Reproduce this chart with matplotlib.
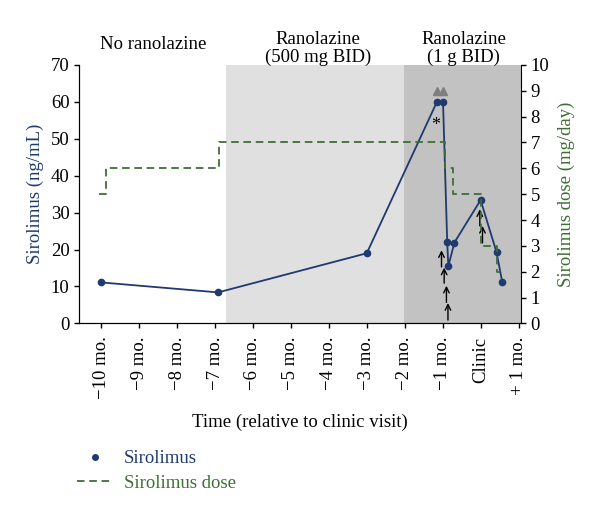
import matplotlib.pyplot as plt
from matplotlib.lines import Line2D

plt.rcParams['font.family'] = 'Liberation Serif'

# months relative to clinic visit (0 = clinic)
sir_x = [-10.0, -6.92, -3.0, -1.15, -0.99, -0.88, -0.85, -0.69, 0.0, 0.42, 0.57]
sir_y = [11.1, 8.4, 19.0, 60.0, 60.0, 22.1, 15.5, 21.9, 33.4, 19.3, 11.2]

# sirolimus dose (mg/day), step changes
dose_x = [-10.05, -9.88, -6.9, -0.95, -0.72, 0.02, 0.42, 0.52]
dose_y = [5, 6, 7, 6, 5, 3, 2, 2]

# flagged points (above-range) and dose-change arrows
flag_x = [-1.15, -0.99]
arrow_x = [-1.03, -0.96, -0.90, -0.86, -0.02, 0.05]
arrow_lo = [15.3, 10.9, 5.7, 0.9, 26.4, 21.8]
arrow_hi = [19.8, 15.1, 10.2, 5.5, 30.9, 26.4]

tick_pos = [-10, -9, -8, -7, -6, -5, -4, -3, -2, -1, 0, 1]
tick_lab = ['\u221210 mo.', '\u22129 mo.', '\u22128 mo.', '\u22127 mo.', '\u22126 mo.',
            '\u22125 mo.', '\u22124 mo.', '\u22123 mo.', '\u22122 mo.', '\u22121 mo.',
            'Clinic', '+ 1 mo.']

navy = '#1e3a6e'
green = '#3d6e34'
fs = 13.5

fig = plt.figure(figsize=(6.0, 5.15), dpi=100)
ax = fig.add_axes([0.132, 0.372, 0.736, 0.502])
ax2 = ax.twinx()

# treatment periods
ax.axvspan(-6.70, -2.03, color='#e0e0e0', lw=0, zorder=0)
ax.axvspan(-2.03, 1.06, color='#c2c2c2', lw=0, zorder=0)

ax.plot(sir_x, sir_y, color=navy, lw=1.3, marker='o', ms=4.5, zorder=3)
ax.plot(flag_x, [62.8, 62.8], ls='none', marker='^', ms=5.5, color='#7f7f7f', zorder=3)
ax.text(-1.19, 53.5, '*', fontsize=13, ha='center', va='center')
for xa, lo, hi in zip(arrow_x, arrow_lo, arrow_hi):
    ax.annotate('', xy=(xa, hi), xytext=(xa, lo),
                arrowprops=dict(arrowstyle='->', lw=1.0, color='black',
                                shrinkA=0, shrinkB=0), zorder=4)

ax2.plot(dose_x, dose_y, color=green, lw=1.3, ls=(0, (4.2, 2.6)), drawstyle='steps-post')

ax.set_xlim(-10.58, 1.06)
ax.set_ylim(0, 70)
ax2.set_ylim(0, 10)
ax.set_yticks(range(0, 71, 10))
ax2.set_yticks(range(0, 11))
ax.set_xticks(tick_pos)
ax.set_xticklabels(tick_lab, rotation=90)

for a in (ax, ax2):
    a.spines['top'].set_visible(False)
    a.tick_params(labelsize=fs, length=3.5, width=1, direction='out')
ax.spines['right'].set_visible(False)
ax.tick_params(axis='x', pad=6)

ax.set_ylabel('Sirolimus (ng/mL)', color=navy, fontsize=fs, labelpad=5)
ax2.set_ylabel('Sirolimus dose (mg/day)', color=green, fontsize=fs, labelpad=6)
ax.set_xlabel('Time (relative to clinic visit)', fontsize=fs, labelpad=10)

fig.text(0.255, 0.913, 'No ranolazine', fontsize=fs, ha='center', va='center')
fig.text(0.53, 0.906, 'Ranolazine\n(500 mg BID)', fontsize=fs, ha='center', va='center',
         linespacing=1.1)
fig.text(0.773, 0.906, 'Ranolazine\n(1 g BID)', fontsize=fs, ha='center', va='center',
         linespacing=1.1)

handles = [Line2D([], [], color=navy, marker='o', ms=4, ls='none'),
           Line2D([], [], color=green, lw=1.3, ls=(0, (4.2, 2.6)))]
fig.legend(handles, ['Sirolimus', 'Sirolimus dose'], loc='upper left',
           bbox_to_anchor=(0.128, 0.126), frameon=False, fontsize=fs,
           labelcolor=[navy, green], handlelength=1.9, handletextpad=0.6,
           labelspacing=0.4, borderpad=0, borderaxespad=0)

fig.savefig('out.png', dpi=100)
